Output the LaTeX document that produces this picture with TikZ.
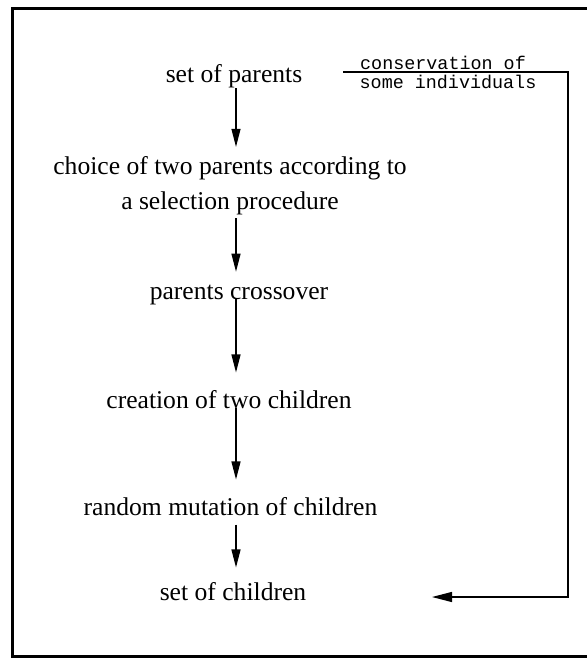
\documentclass[tikz,border=0pt]{standalone}
\usepackage{fontspec}
\setmainfont{Liberation Serif}
\setmonofont{Liberation Mono}
\usetikzlibrary{arrows.meta}
\tikzset{
  stepnode/.style={inner sep=0pt, font=\fontsize{12.8}{17.5}\selectfont},
  flow/.style={-{Triangle[length=9pt,width=4.5pt]}, line width=0.6pt},
  fbtext/.style={inner sep=0.5pt, font=\fontsize{9.2}{10}\selectfont\ttfamily}
}
\begin{document}
\begin{tikzpicture}[x=0.5pt, y=-0.5pt]
  \useasboundingbox (0,0) rectangle (587,658);
  % frame
  \draw[line width=1.5pt] (587,8.5) -- (12.5,8.5) -- (12.5,656) -- (587,656);
  % steps
  \coordinate (axis) at (236,0);
  \node[stepnode] (parents) at (234,76) {set of parents};
  \node[stepnode, align=center] (choice) at (230,185.5) {choice of two parents according to\\a selection procedure};
  \node[stepnode] (cross) at (239,295) {parents crossover};
  \node[stepnode] (create) at (229,400) {creation of two children};
  \node[stepnode] (mutate) at (230.5,507) {random mutation of children};
  \node[stepnode] (children) at (233,592) {set of children};
  % arrows
  \draw[flow, shorten >=4.5pt] (parents.south -| axis) -- (choice.north -| axis);
  \draw[flow, shorten <=1.5pt, shorten >=6.5pt] (choice.south -| axis) -- (cross.north -| axis);
  \draw[flow, shorten <=-3.5pt, shorten >=9pt] (cross.south -| axis) -- (create.north -| axis);
  \draw[flow, shorten <=-1pt, shorten >=9pt] (create.south -| axis) -- (mutate.north -| axis);
  \draw[flow, shorten <=4pt, shorten >=7.5pt] (mutate.south -| axis) -- (children.north -| axis);
  % conservation loop
  \coordinate (fbstart) at (343,72);
  \coordinate (fbend) at (432,597);
  \draw[flow, -{Triangle[length=10pt,width=5pt]}] (fbstart) -- (568,72) -- (568,597) -- (fbend);
  \node[fbtext, anchor=base] (cons) at (443,70) {conservation of};
  \node[fbtext, anchor=base] (some) at (448,89) {some individuals};
\end{tikzpicture}
\end{document}
